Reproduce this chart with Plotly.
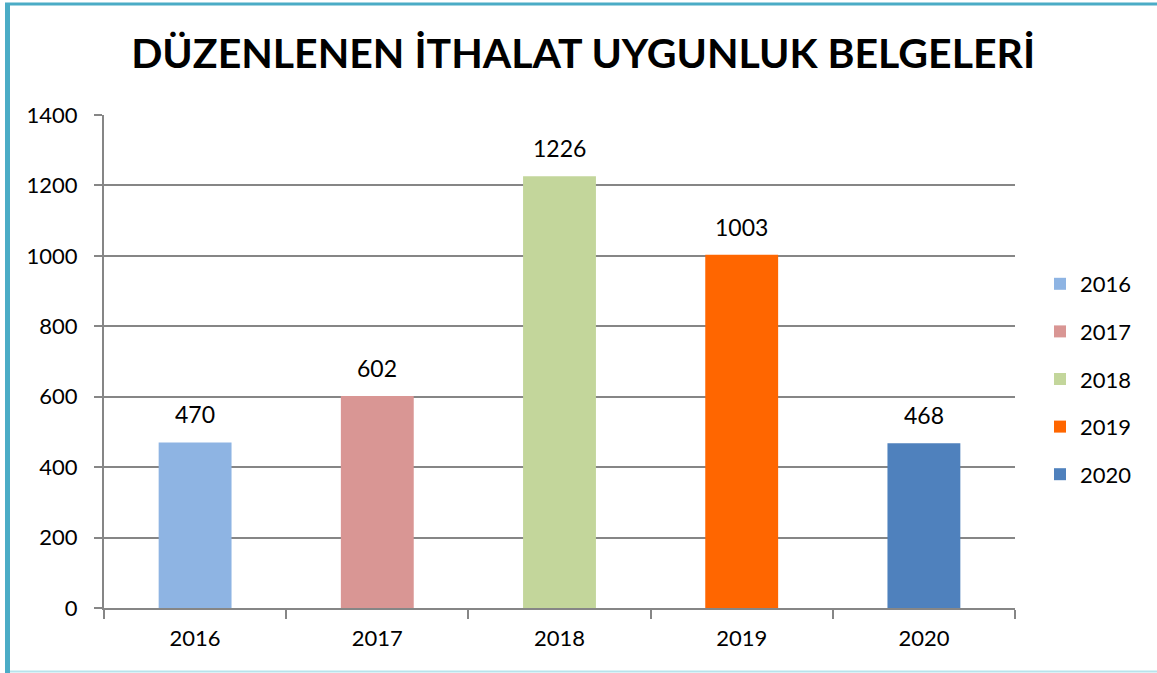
import plotly.graph_objects as go

years = ["2016", "2017", "2018", "2019", "2020"]
values = [470, 602, 1226, 1003, 468]
colors = ["#8EB4E3", "#D99694", "#C3D69B", "#FF6600", "#4F81BD"]
y_ticks = [0, 200, 400, 600, 800, 1000, 1200, 1400]
title_text = "DÜZENLENEN İTHALAT UYGUNLUK BELGELERİ"

FONT = "Lato"

fig = go.Figure()
for i, (yr, v, c) in enumerate(zip(years, values, colors)):
    fig.add_trace(go.Bar(
        x=[yr], y=[v], name=yr, marker=dict(color=c, line=dict(width=0)),
        width=0.4, legendgroup=yr, showlegend=True,
    ))
    fig.add_annotation(x=i, y=v, xref="x", yref="y", text=str(v),
                       showarrow=False, yanchor="bottom", yshift=12,
                       font=dict(family=FONT, size=23, color="#000000"))

L, R, T, B = 104, 142, 115, 65
W, H = 1157, 673
pw, ph = W - L - R, H - T - B

def px_x(px):
    return (px - L) / pw

def px_y(py):
    return (H - B - py) / ph

fig.update_layout(
    width=W, height=H,
    margin=dict(l=L, r=R, t=T, b=B, autoexpand=False),
    paper_bgcolor="white", plot_bgcolor="white",
    barmode="overlay",
    font=dict(family=FONT, size=22, color="#000000"),
    title=dict(text="<b>" + title_text + "</b>", x=0.504, xanchor="center",
               y=1 - 54 / H, yanchor="middle", yref="container",
               font=dict(family=FONT, size=41, color="#000000")),
    xaxis=dict(type="category", categoryorder="array", categoryarray=years,
               showline=True, linecolor="#868686", linewidth=2,
               ticks="outside", tickson="boundaries", ticklen=9,
               tickcolor="#868686", tickwidth=2, showgrid=False,
               ticklabelstandoff=10,
               tickfont=dict(family=FONT, size=22), range=[-0.5, 4.5]),
    yaxis=dict(range=[0, 1400], tickvals=y_ticks, showline=True,
               linecolor="#868686", linewidth=2, ticks="outside",
               ticklen=8, tickcolor="#868686", tickwidth=2,
               showgrid=True, gridcolor="#868686", gridwidth=1.5,
               ticklabelstandoff=12,
               zeroline=False, tickfont=dict(family=FONT, size=22)),
    legend=dict(x=px_x(1040), xanchor="left", y=px_y(263), yanchor="top",
                font=dict(family=FONT, size=22), tracegroupgap=16,
                traceorder="grouped", bgcolor="rgba(0,0,0,0)"),
    bargap=0.6,
)

shapes = [
    dict(type="line", xref="paper", yref="paper",
         x0=px_x(7.5), x1=px_x(7.5), y0=px_y(3), y1=px_y(H),
         line=dict(color="#4BACC6", width=5)),
    dict(type="line", xref="paper", yref="paper",
         x0=px_x(5), x1=px_x(W), y0=px_y(4), y1=px_y(4),
         line=dict(color="#4BACC6", width=3)),
    dict(type="line", xref="paper", yref="paper",
         x0=px_x(10), x1=px_x(W), y0=px_y(671.5), y1=px_y(671.5),
         line=dict(color="#B7E3EC", width=2)),
]
fig.update_layout(shapes=shapes)

fig.write_html("out.html")
